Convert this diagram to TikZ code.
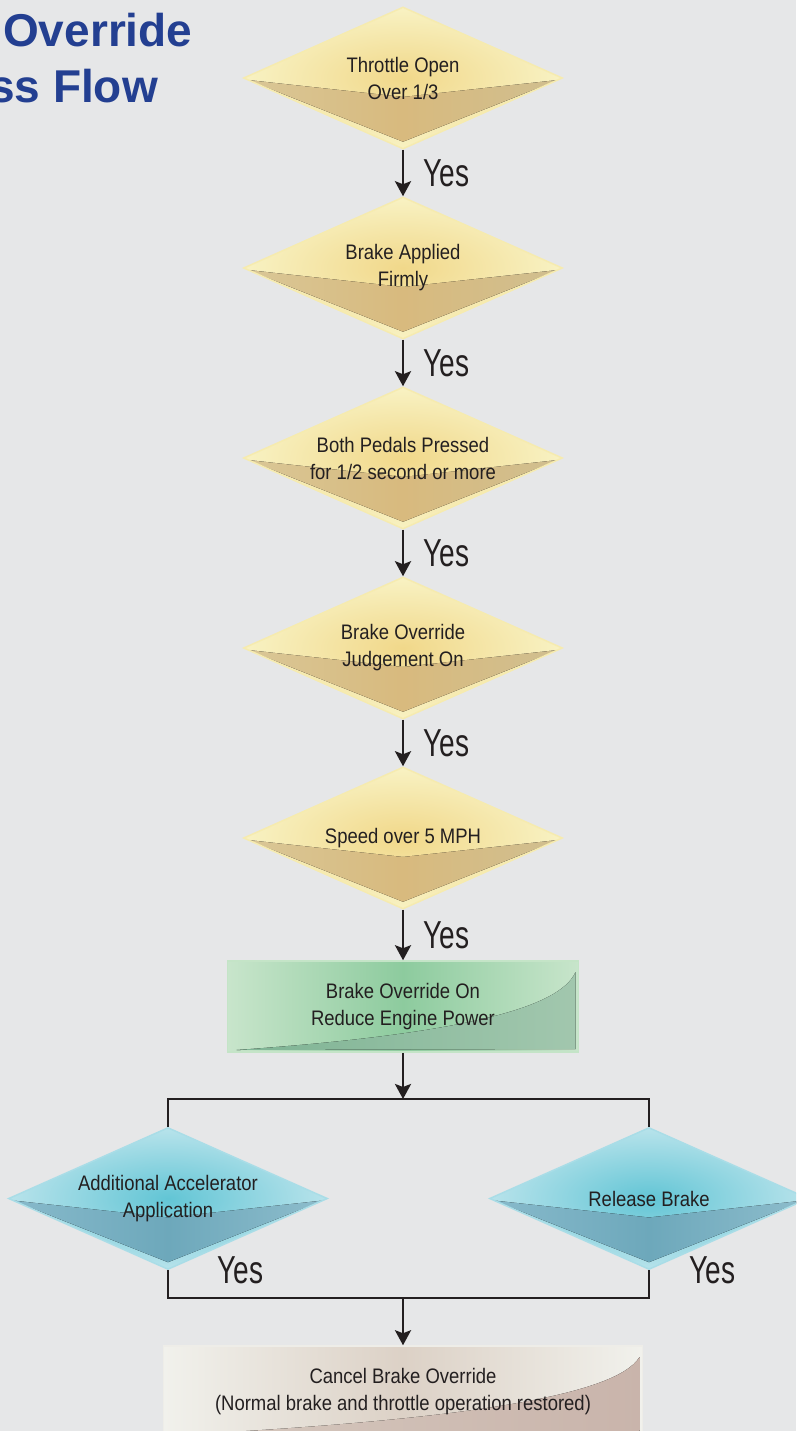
\documentclass[tikz,border=0pt]{standalone}
\usepackage{fontspec}
\setmainfont{Liberation Sans}
\newfontfamily\boxfont[FakeStretch=0.88]{Liberation Sans}
\newfontfamily\yesfont[FakeStretch=0.72]{Liberation Sans}
\usetikzlibrary{shapes.geometric, positioning, arrows.meta}

\definecolor{bg}{HTML}{E6E7E8}
\definecolor{ink}{HTML}{231F20}
\definecolor{tblue}{HTML}{233F91}
\definecolor{yin}{HTML}{F1D88A}
\definecolor{yout}{HTML}{F8F2C3}
\definecolor{yrim}{HTML}{F6EBAF}
\definecolor{yfl}{HTML}{D9C797}
\definecolor{yfm}{HTML}{D8BA7E}
\definecolor{yfr}{HTML}{D0BF90}
\definecolor{bin}{HTML}{62C5D5}
\definecolor{bout}{HTML}{B8E3EB}
\definecolor{brim}{HTML}{A9DDE7}
\definecolor{bfl}{HTML}{88BACB}
\definecolor{bfm}{HTML}{6DA8BB}
\definecolor{bfr}{HTML}{8EBDCC}
\definecolor{gin}{HTML}{8DCB9E}
\definecolor{gout}{HTML}{C8E5CB}
\definecolor{grim}{HTML}{C4E4C7}
\definecolor{gfl}{HTML}{7DB393}
\definecolor{gfr}{HTML}{A2C7AE}
\definecolor{cin}{HTML}{DCD1C6}
\definecolor{cout}{HTML}{F1F1EC}
\definecolor{crim}{HTML}{EEEDE8}
\definecolor{cfl}{HTML}{D6C9BF}
\definecolor{cfr}{HTML}{C9B4AB}

\begin{document}
\begin{tikzpicture}
	[x=1pt, y=1pt, on grid, node distance=190pt, >={Stealth[length=15pt, width=16pt, inset=3pt]},
	 link/.style={draw=ink, line width=2.7pt},
	 dia/.style={shape=diamond, aspect=2.25, minimum width=319pt, minimum height=142pt, inner sep=0pt,
	    align=center, text=ink, font=\boxfont\fontsize{21}{27}\selectfont, line width=1.5pt,
	    draw=#1rim, inner color=#1in, outer color=#1out,
	    path picture={\fill[left color=#1fl, right color=#1fr, middle color=#1fm]
	       ([xshift=4pt, yshift=-2pt]path picture bounding box.west)
	       -- ([yshift=-19pt]path picture bounding box.center)
	       -- ([xshift=-4pt, yshift=-2pt]path picture bounding box.east)
	       -- ([yshift=7pt]path picture bounding box.south) -- cycle;}},
	 proc/.style 2 args={shape=rectangle, minimum width=#2*351pt, minimum height=91pt, inner sep=0pt,
	    align=center, text=ink, font=\boxfont\fontsize{21}{27}\selectfont, line width=1.5pt,
	    draw=#1rim, left color=#1out, right color=#1out, middle color=#1in,
	    path picture={\fill[left color=#1fl, right color=#1fr]
	       ([xshift=#2*9pt, yshift=2pt]path picture bounding box.south west)
	       .. controls ([xshift=#2*222pt, yshift=17pt]path picture bounding box.south west)
	       and ([xshift=#2*332pt, yshift=42pt]path picture bounding box.south west)
	       .. ([xshift=-3pt, yshift=-11pt]path picture bounding box.north east)
	       -- ([xshift=-3pt, yshift=3pt]path picture bounding box.south east) -- cycle;}},
	 yes/.style={text=ink, font=\yesfont\fontsize{39}{39}\selectfont, inner sep=0pt, anchor=west, xshift=19pt},
	 title/.style={text=tblue, font=\bfseries\fontsize{46}{50}\selectfont, inner sep=0pt, anchor=base west}]
   \useasboundingbox (0,0) rectangle (796,-1431);
   \clip (0,0) rectangle (796,-1431);
   \fill[bg] (0,0) rectangle (796,-1431);
   \node[title] (t_1) at (3,-47) {Override};
   \node[title] (t_2) at (-11,-103) {ss Flow};
   \node[dia=y] (d_1) at (403,-78) {Throttle Open\\Over 1/3};
   \node[dia=y] (d_2) [below=of d_1] {Brake Applied\\Firmly};
   \node[dia=y] (d_3) [below=of d_2] {Both Pedals Pressed\\for 1/2 second or more};
   \node[dia=y] (d_4) [below=of d_3] {Brake Override\\Judgement On};
   \node[dia=y] (d_5) [below=of d_4] {Speed over 5 MPH};
   \node[proc={g}{1}] (p_1) [below=168.5pt of d_5] {Brake Override On\\Reduce Engine Power};
   \node[dia=b] (d_6) [below left=192pt and 235pt of p_1] {Additional Accelerator\\Application};
   \node[dia=b] (d_7) [below right=192pt and 246pt of p_1] {Release Brake};
   \node[proc={c}{1.365}] (p_2) [below=385pt of p_1] {Cancel Brake Override\\(Normal brake and throttle operation restored)};
   \coordinate[below=92.5pt of p_1] (j_1);
   \coordinate[below=291.5pt of p_1] (j_2);
    \path[->]
    (d_1) edge[link] node[yes] {Yes} (d_2)
    (d_2) edge[link] node[yes] {Yes} (d_3)
    (d_3) edge[link] node[yes] {Yes} (d_4)
    (d_4) edge[link] node[yes] {Yes} (d_5)
    (d_5) edge[link] node[yes] {Yes} (p_1)
    (p_1) edge[link] (j_1)
    (j_2) edge[link] (p_2);
   \draw[link] (d_6.north) |- (j_1) -| (d_7.north);
   \draw[link] (d_6.south) |- node[yes, pos=0, xshift=29pt] {Yes} (j_2) -| node[yes, pos=1, xshift=20pt] {Yes} (d_7.south);
\end{tikzpicture}
\end{document}
